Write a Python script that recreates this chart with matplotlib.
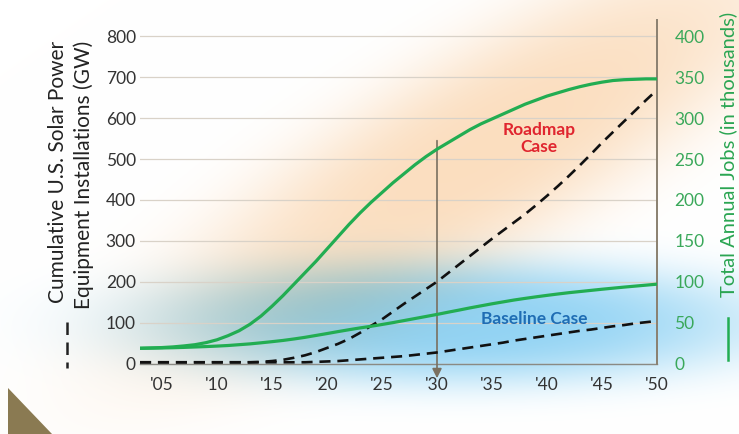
import numpy as np
import matplotlib
matplotlib.use("Agg")
import matplotlib.pyplot as plt
from matplotlib.lines import Line2D
from matplotlib.patches import Polygon

plt.rcParams['font.family'] = ['Lato', 'DejaVu Sans']

# ---------------- data ----------------
years = list(range(2003, 2051))
roadmap_gw = [3, 3, 3, 3, 3, 3, 3, 3, 3, 3, 3,
              4, 6, 9, 14, 20, 28, 38, 48, 60, 75, 92, 108, 127, 146, 164, 182, 200,
              221, 242, 263, 284, 305, 325, 345, 365, 387, 410,
              434, 459, 485, 512, 540, 566, 592, 618, 644, 669]
baseline_gw = [3] * 16 + [4, 5, 6, 8, 10, 12, 14, 16, 18, 21, 24, 27,
                          31, 35, 39, 43, 47, 51, 56, 60, 64, 68,
                          72, 76, 80, 83, 87, 91, 94, 98, 101, 104]
roadmap_jobs = [18.6, 19, 19.5, 20.3, 21.5, 23, 25.5, 29, 34, 40, 48, 58, 70,
                83, 97, 111, 125, 140, 155, 170, 184, 197, 209, 221, 232, 243,
                253, 262, 270, 278, 286, 293, 299, 305, 311, 317, 322, 327, 331,
                335, 338.5, 341.5, 344, 346, 347, 347.5, 348, 348]
baseline_jobs = [18.6, 18.8, 19, 19.3, 19.7, 20.2, 20.7, 21.3, 22, 23, 24, 25.3,
                 26.7, 28.2, 30, 32, 34.3, 36.6, 39, 41.3, 43.5, 45.5, 47.7, 50,
                 52.5, 55, 57.5, 60, 62.7, 65.3, 68, 70.5, 73, 75.3, 77.6, 79.6,
                 81.5, 83.3, 85, 86.6, 88, 89.4, 90.8, 92.1, 93.4, 94.6, 95.8, 97]

xtick_years = [2005, 2010, 2015, 2020, 2025, 2030, 2035, 2040, 2045, 2050]
xtick_labels = ["'05", "'10", "'15", "'20", "'25", "'30", "'35", "'40", "'45", "'50"]
gw_ticks = [0, 100, 200, 300, 400, 500, 600, 700, 800]
jobs_ticks = [0, 50, 100, 150, 200, 250, 300, 350, 400]

W, H = 739, 434
fig = plt.figure(figsize=(W / 100, H / 100), dpi=100)

# ---------------- background glow ----------------
yy, xx = np.mgrid[0:H, 0:W].astype(float)

def blob(cx, cy, a, b, ang_deg, p):
    t = np.deg2rad(ang_deg)
    dx, dy = xx - cx, yy - cy
    u = dx * np.cos(t) + dy * np.sin(t)
    v = -dx * np.sin(t) + dy * np.cos(t)
    r2 = (u / a) ** 2 + (v / b) ** 2
    return np.exp(-r2 ** p)

orange = np.array([250, 214, 176]) / 255.0
blue = np.array([128, 204, 242]) / 255.0
ao = 0.80 * blob(480, 152, 370, 100, -31, 1.5)
ab = 0.85 * blob(455, 322, 305, 62, 0, 1.6)
img = np.ones((H, W, 3))
img *= (1 - ao[..., None] * (1 - orange))
img *= (1 - ab[..., None] * (1 - blue))
fig.figimage(img, 0, 0, zorder=-10, origin='upper')

# brown wedge bottom-left
wedge = Polygon([(8 / W, 1 - 388 / H), (52 / W, 0), (8 / W, 0)],
                closed=True, transform=fig.transFigure,
                facecolor='#8a7a52', edgecolor='none', zorder=-5)
fig.add_artist(wedge)

# ---------------- axes ----------------
x0, x1 = 140 / W, 657 / W
yb = 1 - 363.5 / H
yt = 1 - 20 / H
ax = fig.add_axes([x0, yb, x1 - x0, yt - yb])
ax.set_facecolor('none')
ax.set_xlim(2003, 2050)
ax.set_ylim(0, 840)
ax2 = ax.twinx()
ax2.set_ylim(0, 420)
ax2.set_facecolor('none')

for a in (ax, ax2):
    for s in ('top', 'left', 'right', 'bottom'):
        a.spines[s].set_visible(False)
ax2.spines['right'].set_visible(True)
ax2.spines['right'].set_color('#8a8070')
ax2.spines['right'].set_linewidth(1.4)
ax.spines['bottom'].set_visible(True)
ax.spines['bottom'].set_color('#8a8a84')
ax.spines['bottom'].set_linewidth(1.0)

ax.set_yticks(gw_ticks)
ax.set_yticklabels([str(v) for v in gw_ticks])
ax.set_xticks(xtick_years)
ax.set_xticklabels(xtick_labels)
ax2.set_yticks(jobs_ticks)
ax2.set_yticklabels([str(v) for v in jobs_ticks])
ax.tick_params(axis='y', length=0, pad=3, labelsize=12.5, labelcolor='#333333')
ax.tick_params(axis='x', length=0, pad=10, labelsize=12.5, labelcolor='#333333')
ax2.tick_params(axis='y', length=0, pad=12.5, labelsize=12.5, labelcolor='#3aa85a')

ax.yaxis.grid(True, color='#d9d2c8', linewidth=0.9)
ax.set_axisbelow(True)
ax.xaxis.grid(False)

# vertical marker at 2030 with arrow
ax.annotate('', xy=(2030, -36), xytext=(2030, 545), xycoords='data',
            annotation_clip=False,
            arrowprops=dict(arrowstyle='-|>', color='#7a7060', lw=1.2,
                            mutation_scale=14, shrinkA=0, shrinkB=0))

# lines
dash_style = dict(color='#111111', lw=1.9, dashes=(4.2, 2.6))
ax.plot(years, roadmap_gw, **dash_style, zorder=3)
ax.plot(years, baseline_gw, **dash_style, zorder=3)
ax2.plot(years, roadmap_jobs, color='#22ad52', lw=2.3, zorder=4, solid_capstyle='round')
ax2.plot(years, baseline_jobs, color='#22ad52', lw=2.3, zorder=4, solid_capstyle='round')

# annotations
ax.text(2039.3, 551, 'Roadmap\nCase', color='#e0252f', fontsize=12.5, fontweight='bold',
        ha='center', va='center', linespacing=1.05, zorder=5)
ax.text(2038.8, 108, 'Baseline Case', color='#1f6db4', fontsize=12.5, fontweight='bold',
        ha='center', va='center', zorder=5)

# axis labels
fig.text(58 / W, 1 - 172 / H, 'Cumulative U.S. Solar Power', rotation=90,
         ha='center', va='center', fontsize=15, color='#222222')
fig.text(84 / W, 1 - 175 / H, 'Equipment Installations (GW)', rotation=90,
         ha='center', va='center', fontsize=15, color='#222222')
fig.text(728 / W, 1 - 154 / H, 'Total Annual Jobs (in thousands)', rotation=90,
         ha='center', va='center', fontsize=14.5, color='#2aa552')

# legend marks
fig.add_artist(Line2D([67 / W, 67 / W], [1 - 322 / H, 1 - 368 / H],
                      transform=fig.transFigure, color='#222222', lw=1.8,
                      dashes=(5, 3)))
fig.add_artist(Line2D([728 / W, 728 / W], [1 - 318 / H, 1 - 360 / H],
                      transform=fig.transFigure, color='#22ad52', lw=1.8))

fig.savefig('out.png', dpi=100)
